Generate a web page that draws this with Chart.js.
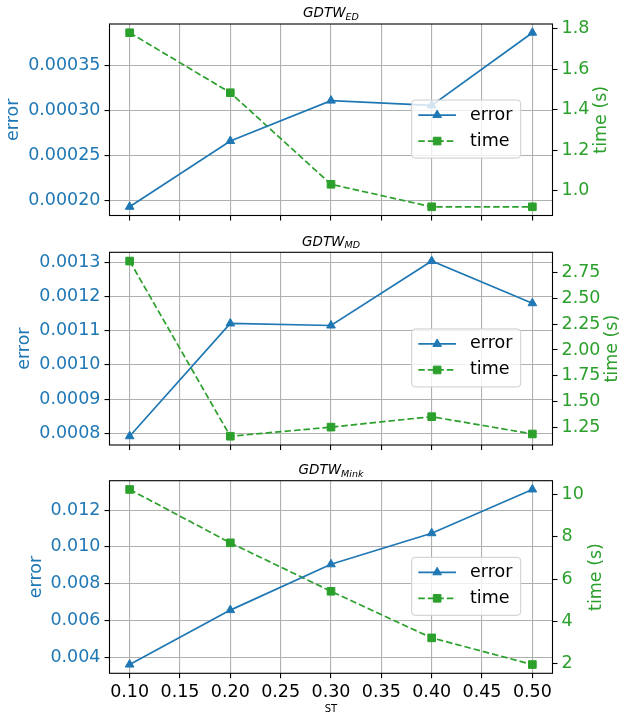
<!DOCTYPE html>
<html>
<head>
<meta charset="utf-8">
<script src="https://cdn.jsdelivr.net/npm/chart.js@4.4.1/dist/chart.umd.min.js"></script>
<style>
  body { margin: 0; background: #fff; }
  #wrap { position: relative; width: 621px; height: 715px; }
  canvas { position: absolute; left: 0; }
</style>
</head>
<body>
<div id="wrap">
  <canvas id="ed" width="621" height="230" style="top:0px"></canvas>
  <canvas id="md" width="621" height="230" style="top:230px"></canvas>
  <canvas id="mink" width="621" height="255" style="top:460px"></canvas>
</div>
<script>
// x values (ST) and x tick labels
const st = [0.1, 0.2, 0.3, 0.4, 0.5];
const stTicks = [0.10, 0.15, 0.20, 0.25, 0.30, 0.35, 0.40, 0.45, 0.50];

// GDTW_ED
const edError = [0.0001934, 0.0002665, 0.0003113, 0.000306, 0.0003867];
const edTime = [1.780, 1.484, 1.032, 0.921, 0.921];
const edErrorTicks = [0.00020, 0.00025, 0.00030, 0.00035];
const edTimeTicks = [1.0, 1.2, 1.4, 1.6, 1.8];

// GDTW_MD
const mdError = [0.000792, 0.001121, 0.001115, 0.001303, 0.00118];
const mdTime = [2.859, 1.167, 1.255, 1.356, 1.189];
const mdErrorTicks = [0.0008, 0.0009, 0.0010, 0.0011, 0.0012, 0.0013];
const mdTimeTicks = [1.25, 1.50, 1.75, 2.00, 2.25, 2.50, 2.75];

// GDTW_Mink
const minkError = [0.00360, 0.00656, 0.00905, 0.01074, 0.01312];
const minkTime = [10.24, 7.72, 5.43, 3.23, 1.97];
const minkErrorTicks = [0.004, 0.006, 0.008, 0.010, 0.012];
const minkTimeTicks = [2, 4, 6, 8, 10];

const blue = '#1f77b4';
const green = '#2ca02c';
const gridColor = '#b0b0b0';
const font = "'DejaVu Sans', sans-serif";
const labelFont = '17.5px ' + font;

Chart.defaults.font.family = font;

// matplotlib style 5% margins
function padRange(values) {
  const lo = Math.min(...values);
  const hi = Math.max(...values);
  const m = (hi - lo) * 0.05;
  return [lo - m, hi + m];
}

// black frame around the plot area
const framePlugin = {
  id: 'frame',
  afterDatasetsDraw(chart) {
    const { ctx, chartArea: a } = chart;
    ctx.save();
    ctx.strokeStyle = '#000';
    ctx.lineWidth = 1.1;
    ctx.strokeRect(a.left, a.top, a.right - a.left, a.bottom - a.top);
    ctx.restore();
  }
};

function widestLabel(ctx, scale) {
  ctx.font = labelFont;
  return Math.max(...scale.ticks.map(t => ctx.measureText(t.label).width));
}

// titles, axis labels and the boxed legend
const textPlugin = {
  id: 'panelText',
  afterDraw(chart, args, opts) {
    const { ctx, chartArea: a } = chart;
    const cx = (a.left + a.right) / 2;
    const cy = (a.top + a.bottom) / 2;
    ctx.save();

    // title: italic GDTW with a subscript
    const mainFont = 'italic 13.5px ' + font;
    const subFont = 'italic 9.5px ' + font;
    ctx.font = mainFont;
    const w1 = ctx.measureText('GDTW').width;
    ctx.font = subFont;
    const w2 = ctx.measureText(opts.sub).width;
    const tx = cx - (w1 + w2) / 2;
    const ty = a.top - 6.7;
    ctx.fillStyle = '#000';
    ctx.textAlign = 'left';
    ctx.textBaseline = 'alphabetic';
    ctx.font = mainFont;
    ctx.fillText('GDTW', tx, ty);
    ctx.font = subFont;
    ctx.fillText(opts.sub, tx + w1, ty + 2.8);

    // y axis titles, placed outside the widest tick label
    const leftX = a.left - 9 - widestLabel(ctx, chart.scales.y) - 14.4;
    const rightX = a.right + 9 + widestLabel(ctx, chart.scales.y1) + 12.4;
    ctx.font = labelFont;
    ctx.textAlign = 'center';
    ctx.textBaseline = 'middle';
    ctx.save();
    ctx.translate(leftX, cy);
    ctx.rotate(-Math.PI / 2);
    ctx.fillStyle = blue;
    ctx.fillText('error', 0, 0);
    ctx.restore();
    ctx.save();
    ctx.translate(rightX, cy);
    ctx.rotate(-Math.PI / 2);
    ctx.fillStyle = green;
    ctx.fillText('time (s)', 0, 0);
    ctx.restore();

    // x axis title on the last panel
    if (opts.xTitle) {
      ctx.font = '10px ' + font;
      ctx.fillStyle = '#000';
      ctx.textBaseline = 'alphabetic';
      ctx.fillText('ST', cx, chart.height - 3);
    }

    // legend
    const bw = 109, bh = 58;
    const bx = a.right - 31.8 - bw;
    const by = cy + 9.3 - bh / 2;
    ctx.beginPath();
    ctx.roundRect(bx, by, bw, bh, 3.5);
    ctx.fillStyle = 'rgba(255,255,255,0.8)';
    ctx.fill();
    ctx.strokeStyle = '#cccccc';
    ctx.lineWidth = 1;
    ctx.stroke();

    chart.data.datasets.forEach((ds, i) => {
      const rowY = by + 15 + i * 26;
      const x0 = bx + 6.6, x1 = bx + 44.3, xm = (x0 + x1) / 2;
      ctx.strokeStyle = ds.borderColor;
      ctx.lineWidth = ds.borderWidth;
      ctx.setLineDash(ds.borderDash || []);
      ctx.beginPath();
      ctx.moveTo(x0, rowY);
      ctx.lineTo(x1, rowY);
      ctx.stroke();
      ctx.setLineDash([]);
      ctx.fillStyle = ds.borderColor;
      const r = ds.pointRadius;
      ctx.beginPath();
      if (ds.pointStyle === 'triangle') {
        ctx.moveTo(xm, rowY - r);
        ctx.lineTo(xm + 0.866 * r, rowY + 0.5 * r);
        ctx.lineTo(xm - 0.866 * r, rowY + 0.5 * r);
        ctx.closePath();
      } else {
        const s = Math.SQRT1_2 * r;
        ctx.rect(xm - s, rowY - s, 2 * s, 2 * s);
      }
      ctx.fill();
      ctx.lineWidth = 1;
      ctx.stroke();
      ctx.fillStyle = '#000';
      ctx.font = labelFont;
      ctx.textAlign = 'left';
      ctx.textBaseline = 'middle';
      ctx.fillText(ds.label, bx + 58.3, rowY);
    });

    ctx.restore();
  }
};

function makePanel(id, sub, error, time, errorTicks, errDec, timeTicks, timeDec, padTop, xHeight, showX) {
  const [eMin, eMax] = padRange(error);
  const [tMin, tMax] = padRange(time);
  const tickFont = { family: font, size: 17.5 };
  return new Chart(document.getElementById(id), {
    type: 'line',
    data: {
      datasets: [{
        label: 'error',
        data: st.map((x, i) => ({ x: x, y: error[i] })),
        yAxisID: 'y',
        borderColor: blue,
        backgroundColor: blue,
        borderWidth: 1.7,
        pointStyle: 'triangle',
        pointRadius: 5,
        pointBorderWidth: 1,
        pointBackgroundColor: blue,
        pointBorderColor: blue,
        tension: 0,
        fill: false
      }, {
        label: 'time',
        data: st.map((x, i) => ({ x: x, y: time[i] })),
        yAxisID: 'y1',
        borderColor: green,
        backgroundColor: green,
        borderWidth: 1.7,
        borderDash: [6.5, 3],
        pointStyle: 'rect',
        pointRadius: 5.4,
        pointBorderWidth: 1,
        pointBackgroundColor: green,
        pointBorderColor: green,
        tension: 0,
        fill: false
      }]
    },
    options: {
      responsive: false,
      animation: false,
      events: [],
      layout: { padding: { top: padTop, bottom: 0, left: 0, right: 0 } },
      plugins: {
        legend: { display: false },
        tooltip: { enabled: false },
        panelText: { sub: sub, xTitle: showX }
      },
      scales: {
        x: {
          type: 'linear',
          min: 0.08,
          max: 0.52,
          afterBuildTicks: (s) => { s.ticks = stTicks.map(v => ({ value: v })); },
          afterFit: (s) => { s.height = xHeight; },
          grid: { color: gridColor, lineWidth: 1.1, tickColor: '#000', tickLength: 5, tickWidth: 1.1 },
          border: { display: false },
          ticks: {
            display: showX,
            color: '#000',
            font: tickFont,
            padding: 4,
            maxRotation: 0,
            autoSkip: false,
            callback: (v) => Number(v).toFixed(2)
          }
        },
        y: {
          position: 'left',
          min: eMin,
          max: eMax,
          afterBuildTicks: (s) => { s.ticks = errorTicks.map(v => ({ value: v })); },
          afterFit: (s) => { s.width = 109.5; },
          grid: { color: gridColor, lineWidth: 1.1, tickColor: '#000', tickLength: 5, tickWidth: 1.1 },
          border: { display: false },
          ticks: { color: blue, font: tickFont, padding: 4, callback: (v) => Number(v).toFixed(errDec) }
        },
        y1: {
          position: 'right',
          min: tMin,
          max: tMax,
          afterBuildTicks: (s) => { s.ticks = timeTicks.map(v => ({ value: v })); },
          afterFit: (s) => { s.width = 68.5; },
          grid: { drawOnChartArea: false, tickColor: '#000', tickLength: 5, tickWidth: 1.1 },
          border: { display: false },
          ticks: { color: green, font: tickFont, padding: 4, callback: (v) => Number(v).toFixed(timeDec) }
        }
      }
    },
    plugins: [framePlugin, textPlugin]
  });
}

makePanel('ed', 'ED', edError, edTime, edErrorTicks, 5, edTimeTicks, 1, 24, 13.3, false);
makePanel('md', 'MD', mdError, mdTime, mdErrorTicks, 4, mdTimeTicks, 2, 22.3, 15, false);
makePanel('mink', 'Mink', minkError, minkTime, minkErrorTicks, 3, minkTimeTicks, 0, 20.7, 41.7, true);
</script>
</body>
</html>
